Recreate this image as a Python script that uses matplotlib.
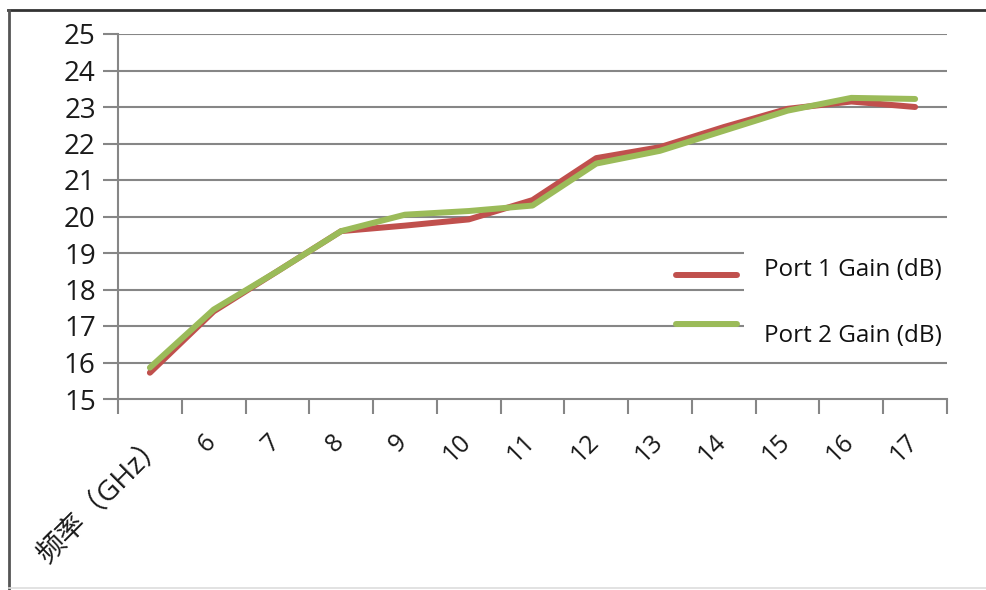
import matplotlib
matplotlib.use("Agg")
import matplotlib.pyplot as plt
from matplotlib.lines import Line2D
from matplotlib.patches import Rectangle
from matplotlib.transforms import ScaledTranslation
import numpy as np

plt.rcParams['font.family'] = ['Open Sans', 'Noto Sans CJK SC', 'DejaVu Sans']

categories = ['频率（GHz）', '6', '7', '8', '9', '10', '11', '12', '13', '14', '15', '16', '17']
port1_gain = [15.72, 17.40, 18.50, 19.60, 19.75, 19.92, 20.45, 21.60, 21.90, 22.45, 22.95, 23.15, 23.00]
port2_gain = [15.86, 17.45, 18.50, 19.60, 20.05, 20.15, 20.30, 21.45, 21.80, 22.35, 22.90, 23.25, 23.22]
y_ticks = [15, 16, 17, 18, 19, 20, 21, 22, 23, 24, 25]
series_labels = ['Port 1 Gain (dB)', 'Port 2 Gain (dB)']

W, H = 986, 590
fig = plt.figure(figsize=(W / 100, H / 100), dpi=100)
fig.patch.set_facecolor('white')

ax = fig.add_axes([118 / W, 1 - 399 / H, (947 - 118) / W, (399 - 34) / H])
x = np.arange(len(categories))

grid_color = '#868686'
for yv in y_ticks[1:]:
    ax.axhline(yv, color=grid_color, lw=1.5, zorder=1)

red = '#C0504D'
green = '#9BBB59'
ax.plot(x, port1_gain, color=red, lw=4.3, solid_capstyle='round', solid_joinstyle='round', zorder=3)
ax.plot(x, port2_gain, color=green, lw=4.3, solid_capstyle='round', solid_joinstyle='round', zorder=4)

ax.set_xlim(-0.5, len(categories) - 0.5)
ax.set_ylim(15, 25)
for s in ['top', 'right']:
    ax.spines[s].set_visible(False)
for s in ['left', 'bottom']:
    ax.spines[s].set_color(grid_color)
    ax.spines[s].set_linewidth(1.5)

ax.set_yticks(y_ticks)
ax.set_yticklabels([str(v) for v in y_ticks], fontsize=20, color='#1a1a1a')
ax.tick_params(axis='y', length=11, width=1.5, color=grid_color, pad=5)

ax.set_xticks(x)
ax.set_xticklabels(categories, rotation=45, ha='right', va='top', rotation_mode='anchor',
                   fontsize=18, color='#1a1a1a')
ax.set_xticks(np.arange(-0.5, len(categories), 1.0), minor=True)
ax.tick_params(axis='x', which='major', length=0, pad=22)
ax.tick_params(axis='x', which='minor', length=11, width=1.5, color=grid_color)
for i, lbl in enumerate(ax.get_xticklabels()):
    dx = 3 if i == 0 else -10
    lbl.set_transform(lbl.get_transform() + ScaledTranslation(dx / 100, 0, fig.dpi_scale_trans))
    if i == 0:
        lbl.set_fontsize(20.5)

# legend area (white box over gridlines)
fig.add_artist(Rectangle((744 / W, 1 - 346 / H), (955 - 744) / W, (346 - 240) / H,
                         transform=fig.transFigure, facecolor='white', edgecolor='none', zorder=5))
for (yy, col, lab, ty) in [(275, red, series_labels[0], 270), (324, green, series_labels[1], 336)]:
    fig.add_artist(Line2D([676 / W, 737 / W], [1 - yy / H, 1 - yy / H], transform=fig.transFigure,
                          color=col, lw=4.3, solid_capstyle='round', zorder=6))
    fig.text(764 / W, 1 - ty / H, lab, fontsize=17.5, va='center', ha='left', color='#111111', zorder=7)

# outer frame lines
fig.add_artist(Line2D([8 / W, 1.0], [1 - 10 / H, 1 - 10 / H], transform=fig.transFigure,
                      color='#333333', lw=2.0, zorder=8))
fig.add_artist(Line2D([9 / W, 9 / W], [1 - 10 / H, 0.0], transform=fig.transFigure,
                      color='#555555', lw=2.0, zorder=8))
fig.add_artist(Line2D([9 / W, 1.0], [1 - 588 / H, 1 - 588 / H], transform=fig.transFigure,
                      color='#dddddd', lw=1.2, zorder=8))

fig.savefig('out.png', dpi=100, facecolor='white')
